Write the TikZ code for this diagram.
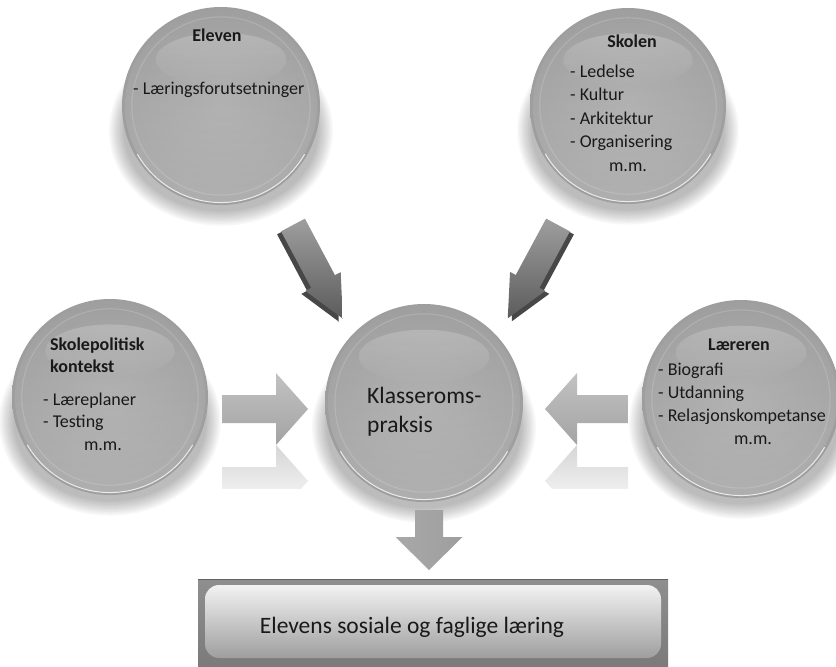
\documentclass[tikz,border=0pt]{standalone}
\usepackage{fontspec}
\setmainfont{Carlito}
\usetikzlibrary{fadings}
\pgfdeclareradialshading{sph}{\pgfpoint{0bp}{0bp}}{color(0bp)=(black!33); color(22bp)=(black!37); color(40bp)=(black!43); color(46.5bp)=(black!46); color(48.5bp)=(black!38); color(50bp)=(black!28); color(70bp)=(black!28)}
\tikzset{
  txt/.style={inner sep=0pt, font=\fontsize{18}{22}\selectfont, text=black!90},
  ttl/.style={inner sep=0pt, font=\fontsize{18}{22}\selectfont\bfseries, text=black!90},
  big/.style={inner sep=0pt, font=\fontsize{23.5}{28}\selectfont, text=black!90},
  diagface/.style={fill=black!72},
  diagbody/.style={top color=black!38, bottom color=black!64},
  horbody/.style={top color=black!24, middle color=black!42, bottom color=black!36},
  downbody/.style={left color=black!34, middle color=black!48, right color=black!38},
  reflect/.style={fill=black!16, path fading=south},
  glowlayer/.style={fill=black, fill opacity=0.032},
}
\newcommand\SphGlow[3]{%
  \foreach \k in {0,...,8}{%
    \fill[glowlayer] (#1,#2+0.25*#3) ellipse ({(1.13-0.018*\k)*#3} and {(0.96-0.018*\k)*#3});}}
\newcommand\SphBody[4]{% name, x, y, r
  \node[circle, minimum size=2*#4pt, inner sep=0pt, shading=sph] (#1) at (#2,#3) {};
  \fill[white, fill opacity=0.16, path fading=north] (#2,#3) circle (0.97*#4);
  \draw[white, opacity=0.15, line width=1.2pt] (#2,#3) circle (0.9*#4);
  \fill[white, fill opacity=0.2, path fading=south] (#2,#3-0.47*#4) ellipse ({0.66*#4} and {0.27*#4});
  \draw[white, opacity=0.8, line width=1pt] (#2,#3) ++(30:0.975*#4) arc[start angle=30, end angle=150, radius=0.975*#4];}
\newcommand\BArrow[8]{% name, tail, angle, length, shaft half, head half, head length, style
  \begin{scope}[shift={#2}, rotate=#3]
    \path[#8] (0,-#5) -- ({#4-#7},-#5) -- ({#4-#7},-#6) -- (#4,0) -- ({#4-#7},#6) -- ({#4-#7},#5) -- (0,#5) -- cycle;
    \coordinate (#1) at (#4,0);
  \end{scope}}
\begin{document}
\begin{tikzpicture}[x=1pt,y=-1pt]
\fill[white] (0,0) rectangle (836,667);
\useasboundingbox (0,0) rectangle (836,667);
% glows
\SphGlow{221}{106}{99}
\SphGlow{628}{106}{98}
\SphGlow{110}{397}{98}
\SphGlow{424}{403}{99}
\SphGlow{741}{399}{99}
% diagonal arrows
\BArrow{d1s}{(289,228)}{-62}{106}{13.5}{20}{42}{diagface}
\BArrow{d1}{(293,225)}{-62}{106}{13.5}{20}{42}{diagbody}
\BArrow{d2s}{(562,228)}{-118.3}{106}{13.5}{20}{42}{diagface}
\BArrow{d2}{(558,225)}{-118.3}{106}{13.5}{20}{42}{diagbody}
% horizontal arrows with reflections
\begin{scope}
  \clip (200,445) rectangle (320,488);
  \BArrow{r1}{(222,481)}{0}{86}{14}{36}{32}{reflect}
\end{scope}
\begin{scope}
  \clip (530,445) rectangle (640,488);
  \BArrow{r2}{(628,481)}{180}{83}{14}{36}{32}{reflect}
\end{scope}
\BArrow{h1}{(222,409)}{0}{86}{14}{36}{32}{horbody}
\BArrow{h2}{(628,409)}{180}{83}{14}{36}{32}{horbody}
% spheres
\SphBody{eleven}{221}{106}{99}
\SphBody{skolen}{628}{106}{98}
\SphBody{politikk}{110}{397}{98}
\SphBody{praksis}{424}{403}{99}
\SphBody{laereren}{741}{399}{99}
% down arrow
\BArrow{dn}{(429,510)}{-90}{60}{14}{33.5}{33}{downbody}
% bottom box
\shade[top color=black!44, bottom color=black!52] (198,579) rectangle (668,667);
\draw[black!62, line width=1pt] (198,579.5) -- (668,579.5);
\shade[top color=black!5, bottom color=black!38, rounded corners=14pt] (205,585) rectangle (661,658);
% texts
\node[ttl, anchor=base] (tEleven) at (217,41) {Eleven};
\node[txt, anchor=base west] (tEl1) at (133,94) {- Læringsforutsetninger};
\node[ttl, anchor=base] (tSkolen) at (632,47) {Skolen};
\node[txt, anchor=base west] (tSk1) at (570,77) {- Ledelse};
\node[txt, anchor=base west] (tSk2) at (570,100) {- Kultur};
\node[txt, anchor=base west] (tSk3) at (570,124) {- Arkitektur};
\node[txt, anchor=base west] (tSk4) at (570,147) {- Organisering};
\node[txt, anchor=base] (tSk5) at (628,171) {m.m.};
\node[ttl, anchor=base west] (tPo1) at (50,350) {Skolepolitisk};
\node[ttl, anchor=base west] (tPo2) at (50,372) {kontekst};
\node[txt, anchor=base west] (tPo3) at (43,405) {- Læreplaner};
\node[txt, anchor=base west] (tPo4) at (43,427) {- Testing};
\node[txt, anchor=base] (tPo5) at (103,450) {m.m.};
\node[ttl, anchor=base] (tLa) at (739,350) {Læreren};
\node[txt, anchor=base west] (tLa1) at (658,375) {- Biografi};
\node[txt, anchor=base west] (tLa2) at (658,398) {- Utdanning};
\node[txt, anchor=base west] (tLa3) at (658,421) {- Relasjonskompetanse};
\node[txt, anchor=base] (tLa4) at (753,444) {m.m.};
\node[big, anchor=base west] (tKl1) at (367,403) {Klasseroms-};
\node[big, anchor=base west] (tKl2) at (367,432) {praksis};
\node[big, anchor=base] (tBottom) at (412,633) {Elevens sosiale og faglige læring};
\end{tikzpicture}
\end{document}
